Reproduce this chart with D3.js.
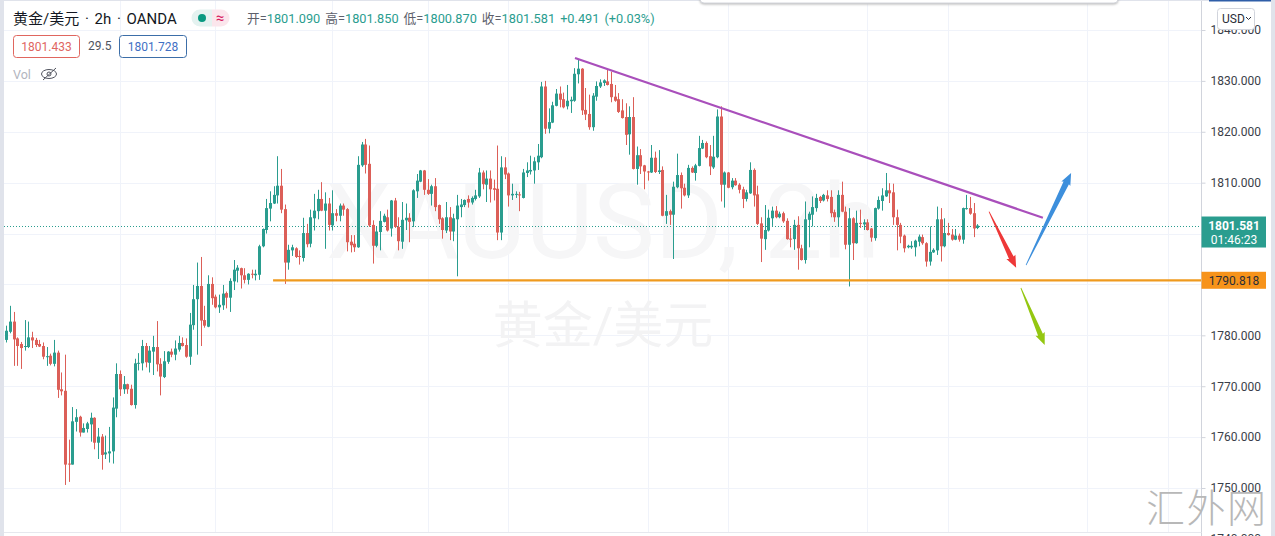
<!DOCTYPE HTML>
<html>
  <head>
    <meta charset="utf-8">
    <style>
     * { margin:0;padding:0 }
     html, body { height:100%; overflow:hidden; background-color:#fff; }
     text { font-family: Roboto, "Noto Sans CJK SC", sans-serif; }
     .axis text { font-size:12px; fill:#3a3e49; }
     .axis path, .axis line { stroke:#d1d4dc; }
    </style>
    <script src="https://cdn.jsdelivr.net/npm/d3@7"></script>
  </head>
  <body>
    <script>
var opens = [
1779.1,1780.7,1782.7,1779.4,1778.3,1777.7,1777.7,1779.6,1779.1,1778.3,
1777.9,1775.8,1776.0,1774.4,1776.6,1769.4,1769.1,1754.8,1754.6,1763.0,
1764.0,1760.9,1761.6,1762.5,1763.8,1758.9,1760.1,1756.6,1756.8,1757.2,
1765.6,1772.4,1769.4,1770.4,1769.5,1766.3,1774.5,1774.5,1777.9,1774.6,
1776.8,1777.7,1774.4,1771.8,1774.8,1776.8,1776.2,1777.2,1778.5,1778.1,
1775.8,1782.0,1787.1,1789.7,1783.0,1781.7,1790.1,1787.6,1785.5,1785.9,
1788.3,1787.4,1790.6,1792.7,1793.2,1791.8,1790.9,1792.1,1791.8,1791.9,
1797.5,1800.7,1804.9,1805.9,1807.5,1809.4,1804.8,1794.3,1796.7,1797.1,
1795.6,1795.2,1800.1,1798.0,1803.0,1804.4,1806.8,1804.5,1805.9,1801.6,
1804.0,1803.5,1805.5,1804.8,1798.4,1798.0,1797.3,1813.4,1817.5,1813.7,
1801.7,1797.6,1800.3,1802.3,1803.2,1801.0,1806.5,1801.3,1798.4,1802.6,
1803.1,1802.4,1808.3,1810.2,1812.4,1808.6,1807.8,1809.3,1805.6,1803.0,
1800.6,1803.2,1800.4,1802.8,1805.2,1805.6,1806.8,1806.1,1806.8,1807.3,
1812.0,1809.6,1810.8,1808.9,1808.8,1800.2,1813.0,1811.8,1807.5,1807.6,
1807.7,1807.0,1811.9,1812.2,1812.4,1814.0,1815.0,1828.9,1820.6,1821.8,
1825.1,1827.5,1826.4,1825.0,1826.0,1826.1,1831.3,1832.4,1824.3,1823.5,
1820.9,1826.9,1828.9,1829.6,1829.9,1829.4,1826.9,1826.4,1824.2,1822.9,
1819.5,1822.9,1812.7,1815.4,1813.4,1812.2,1812.0,1814.9,1812.1,1812.5,
1803.5,1804.4,1803.7,1809.1,1811.5,1809.0,1807.5,1812.9,1811.9,1813.3,
1816.7,1817.8,1815.2,1813.0,1815.0,1823.0,1809.6,1812.0,1809.1,1810.4,
1809.6,1808.7,1806.8,1807.9,1812.5,1807.7,1802.0,1798.9,1800.6,1803.0,
1804.5,1803.2,1804.0,1802.5,1799.0,1798.9,1801.7,1797.1,1794.8,1802.7,
1803.7,1805.0,1807.2,1806.5,1807.5,1807.2,1804.2,1803.2,1807.6,1804.3,
1797.8,1803.0,1798.1,1802.1,1801.8,1802.2,1801.0,1799.1,1804.9,1806.4,
1807.3,1808.5,1808.1,1803.2,1801.7,1799.6,1797.3,1797.3,1797.3,1798.4,
1799.3,1798.1,1794.5,1796.3,1796.7,1802.8,1797.5,1800.1,1799.8,1798.8,
1799.6,1798.8,1804.8,1805.0,1804.0,1801.09];

var highs = [
1781.9,1785.8,1784.6,1779.6,1778.7,1783.0,1782.7,1780.7,1779.5,1779.1,
1778.6,1777.7,1776.4,1779.1,1777.0,1772.7,1776.2,1759.5,1765.9,1765.5,
1764.2,1762.7,1763.0,1764.8,1763.9,1761.8,1760.6,1760.3,1762.0,1767.8,
1774.5,1773.1,1772.0,1770.5,1770.3,1775.4,1776.5,1779.1,1778.5,1777.9,
1779.9,1782.8,1775.5,1776.9,1776.9,1777.4,1779.0,1779.9,1779.6,1779.4,
1784.4,1789.9,1794.3,1795.4,1785.8,1791.8,1791.4,1788.0,1788.0,1789.9,
1788.6,1791.2,1794.8,1793.8,1793.3,1793.2,1792.2,1792.9,1792.9,1797.8,
1801.0,1806.8,1808.3,1809.3,1815.2,1812.7,1805.7,1797.8,1797.8,1797.3,
1796.7,1803.1,1801.9,1804.7,1807.8,1808.6,1810.1,1808.1,1807.0,1808.5,
1804.8,1805.9,1805.9,1805.0,1799.7,1799.7,1815.2,1818.0,1818.6,1817.3,
1802.6,1801.3,1804.4,1803.9,1804.7,1806.6,1807.0,1803.2,1806.2,1805.9,
1804.0,1808.7,1811.7,1812.5,1812.5,1810.7,1809.6,1810.9,1805.7,1803.2,
1806.2,1805.2,1803.9,1807.6,1806.8,1806.7,1807.5,1807.3,1808.6,1812.9,
1812.4,1812.4,1812.4,1810.6,1817.3,1815.2,1815.0,1812.0,1809.8,1808.3,
1808.2,1812.7,1814.0,1815.3,1815.0,1817.6,1829.8,1830.0,1824.6,1825.9,
1828.4,1828.9,1827.7,1829.2,1826.9,1832.5,1834.3,1832.5,1828.6,1827.3,
1827.6,1829.9,1830.3,1830.3,1832.3,1831.8,1829.2,1827.6,1826.4,1825.6,
1825.0,1826.8,1817.1,1816.6,1813.5,1812.3,1817.4,1816.1,1816.4,1813.2,
1807.6,1804.7,1810.2,1815.7,1812.0,1809.8,1813.5,1813.2,1813.7,1819.2,
1818.4,1818.1,1817.4,1819.2,1824.4,1825.0,1812.2,1812.1,1810.9,1810.9,
1809.9,1809.2,1808.6,1814.0,1812.8,1809.4,1803.2,1805.6,1804.7,1805.3,
1805.4,1804.3,1804.3,1803.0,1801.1,1802.7,1803.4,1797.8,1806.3,1804.3,
1807.3,1807.8,1807.4,1807.8,1808.5,1808.5,1804.7,1808.5,1810.2,1805.3,
1805.0,1803.2,1804.5,1804.7,1802.8,1802.8,1801.1,1805.1,1807.3,1808.9,
1811.9,1809.9,1809.8,1804.7,1802.1,1799.8,1797.8,1798.5,1798.8,1799.8,
1799.8,1798.3,1801.4,1797.1,1805.3,1805.0,1803.0,1802.1,1800.9,1800.9,
1800.0,1805.1,1807.6,1807.2,1806.0,1801.85];

var lows = [
1778.6,1780.4,1774.0,1774.0,1773.4,1777.0,1777.5,1777.5,1777.7,1777.7,
1775.3,1774.0,1774.1,1773.9,1767.7,1768.2,1750.6,1751.2,1754.6,1761.1,
1760.1,1760.9,1760.9,1759.1,1757.6,1755.7,1753.6,1755.7,1755.0,1754.8,
1763.9,1768.1,1768.5,1768.5,1766.2,1765.6,1773.1,1773.1,1773.7,1772.7,
1772.2,1772.9,1768.2,1771.6,1774.4,1775.7,1775.1,1776.8,1777.8,1775.6,
1774.2,1781.1,1776.2,1777.9,1781.5,1781.6,1786.0,1785.3,1784.4,1785.0,
1785.3,1784.6,1788.9,1790.4,1789.2,1790.2,1790.0,1791.2,1790.8,1790.9,
1797.3,1800.0,1802.4,1805.8,1805.9,1804.0,1790.1,1792.9,1795.6,1795.2,
1793.9,1794.5,1797.3,1797.3,1800.6,1802.8,1804.4,1797.0,1800.6,1800.6,
1802.4,1802.4,1803.5,1796.5,1796.3,1796.4,1797.2,1813.1,1811.8,1801.3,
1794.1,1797.3,1796.7,1802.2,1800.4,1799.4,1801.1,1796.7,1797.0,1800.7,
1798.3,1801.3,1807.0,1810.1,1807.6,1807.6,1805.5,1804.4,1801.9,1799.0,
1800.1,1798.7,1798.5,1791.6,1803.2,1805.2,1805.1,1805.7,1806.5,1807.0,
1808.7,1806.2,1806.1,1806.5,1798.7,1798.7,1810.7,1805.3,1806.6,1807.0,
1804.4,1806.9,1811.1,1811.6,1809.8,1812.5,1814.8,1819.6,1819.7,1821.7,
1825.0,1824.8,1824.6,1824.4,1823.7,1825.9,1829.5,1823.3,1822.3,1820.4,
1820.2,1826.1,1828.6,1829.0,1829.1,1825.8,1825.9,1823.7,1822.6,1817.4,
1815.5,1812.6,1809.6,1811.7,1808.7,1810.4,1811.9,1811.9,1811.7,1803.4,
1801.9,1801.7,1795.0,1808.9,1804.9,1807.3,1807.0,1811.9,1810.4,1813.2,
1816.6,1814.8,1811.5,1812.7,1814.8,1806.3,1805.1,1808.9,1808.7,1809.4,
1807.9,1805.0,1806.3,1807.8,1805.3,1801.7,1794.4,1796.8,1800.4,1801.5,
1803.0,1803.0,1802.1,1798.8,1797.3,1796.8,1792.9,1794.7,1794.1,1797.3,
1801.4,1804.3,1806.0,1806.3,1806.3,1803.2,1802.3,1801.4,1804.2,1796.9,
1789.6,1794.8,1798.0,1801.1,1800.7,1800.6,1798.4,1798.6,1804.7,1804.5,
1807.2,1806.0,1801.7,1796.7,1798.1,1796.3,1797.1,1797.0,1795.5,1797.5,
1797.8,1793.5,1793.7,1796.2,1795.8,1794.5,1797.3,1799.6,1798.6,1798.7,
1798.4,1798.0,1804.7,1803.7,1799.3,1800.87];

var closes = [
1780.9,1782.7,1779.2,1777.9,1777.5,1777.9,1779.6,1779.0,1778.1,1777.8,
1775.8,1775.9,1774.4,1776.6,1769.3,1769.0,1754.6,1754.6,1763.1,1763.9,
1760.9,1761.8,1762.7,1763.8,1758.9,1760.1,1756.5,1757.0,1757.2,1765.8,
1772.4,1769.4,1770.4,1769.4,1766.3,1774.5,1774.6,1777.9,1774.7,1777.0,
1777.7,1774.3,1771.9,1774.9,1776.8,1776.2,1777.4,1778.5,1777.9,1775.8,
1782.1,1787.1,1789.7,1782.9,1781.9,1790.1,1787.3,1785.5,1786.0,1788.2,
1787.4,1790.7,1792.9,1793.3,1791.8,1790.9,1792.1,1792.0,1792.1,1797.5,
1800.9,1805.0,1806.0,1807.6,1809.4,1804.7,1794.3,1796.8,1797.3,1795.4,
1795.4,1800.1,1797.9,1803.2,1804.5,1806.8,1804.5,1805.9,1801.7,1804.0,
1803.5,1805.5,1804.7,1798.3,1797.7,1797.3,1813.5,1817.5,1813.5,1801.6,
1797.6,1800.4,1802.5,1803.5,1800.6,1806.5,1801.3,1798.5,1802.7,1803.1,
1802.3,1808.5,1810.4,1812.4,1808.6,1807.8,1809.3,1805.2,1802.8,1800.7,
1803.2,1800.4,1803.0,1805.5,1805.7,1806.6,1806.1,1807.0,1807.5,1812.0,
1809.7,1810.8,1808.7,1808.6,1800.2,1813.0,1811.6,1807.5,1807.8,1807.8,
1807.5,1812.0,1812.4,1812.5,1814.2,1815.3,1828.9,1820.6,1821.9,1825.2,
1827.5,1826.3,1824.8,1826.1,1826.3,1831.4,1832.4,1824.2,1823.4,1820.9,
1827.1,1829.0,1829.7,1830.1,1829.2,1826.8,1826.1,1823.9,1822.7,1819.4,
1822.9,1812.7,1815.4,1813.2,1812.2,1812.1,1814.9,1812.1,1812.4,1803.5,
1804.4,1803.7,1809.2,1811.5,1808.9,1807.5,1812.9,1812.0,1813.4,1816.8,
1817.8,1815.0,1813.2,1815.1,1823.0,1809.6,1812.0,1809.0,1810.4,1809.5,
1808.6,1806.8,1808.1,1812.5,1807.5,1801.9,1799.0,1800.7,1803.1,1804.5,
1803.2,1803.9,1802.4,1798.9,1798.9,1801.7,1797.1,1794.8,1802.8,1803.9,
1805.2,1807.0,1806.4,1807.6,1806.8,1804.0,1803.2,1807.6,1804.3,1797.8,
1803.0,1798.1,1802.1,1802.0,1802.2,1800.7,1799.2,1805.0,1806.6,1807.5,
1808.5,1807.9,1803.2,1801.7,1799.4,1797.1,1797.6,1797.6,1798.6,1799.4,
1798.1,1794.5,1796.4,1796.8,1802.8,1797.5,1800.1,1799.7,1798.8,1799.6,
1798.8,1805.0,1805.0,1803.9,1801.0,1801.581];

var priceTicks = [1740,1750,1760,1770,1780,1790,1800,1810,1820,1830,1840];
// 1790 and 1800 sit under the price tags, so they get a gridline but no label
var labelTicks = [1740,1750,1760,1770,1780,1810,1820,1830,1840];
var timeGrid = [31,57,89,115,137,175,197,235,257,295,317];
var lastPrice = 1801.581, supportPrice = 1790.818;
// [bar, price] pairs for the drawn objects
var trendLine = [[155.2,1834.5],[282.9,1803.1]];
var supportStart = 72.8;
var redArrow = [[268.2,1804.3],[275.6,1793.3]];
var blueArrow = [[278.3,1793.8],[290.6,1811.9]];
var greenArrow = [[276.9,1789.3],[283.4,1778.1]];

var width = 1275, height = 536, axisX = 1201.5, up = "#2a9d8f", down = "#dc5f58";

var x = d3.scaleLinear().domain([0,265]).range([6.33,977.3]);
var y = d3.scaleLinear().domain([1840,1750]).range([30,488]);

var svg = d3.select("body").append("svg")
    .attr("width", width)
    .attr("height", height)
    .style("display", "block");

// grid
svg.selectAll(".hg").data(priceTicks).enter().append("line")
    .attr("x1", 4).attr("x2", axisX)
    .attr("y1", function(d) { return Math.round(y(d)) + 0.5; })
    .attr("y2", function(d) { return Math.round(y(d)) + 0.5; })
    .attr("stroke", "#f0f3fa");
svg.selectAll(".vg").data(timeGrid).enter().append("line")
    .attr("x1", function(d) { return Math.round(x(d)) + 0.5; })
    .attr("x2", function(d) { return Math.round(x(d)) + 0.5; })
    .attr("y1", 0).attr("y2", 532)
    .attr("stroke", "#f0f3fa");

// watermark
svg.append("text").attr("x", 603).attr("y", 258)
    .attr("text-anchor", "middle").attr("font-size", 104)
    .attr("fill", "#f6f6f7").text("XAUUSD, 2h");
svg.append("text").attr("x", 603).attr("y", 343)
    .attr("text-anchor", "middle").attr("font-size", 50)
    .attr("fill", "#f3f3f4").text("黄金/美元");

// last price line
svg.append("line")
    .attr("x1", 4).attr("x2", axisX)
    .attr("y1", Math.round(y(lastPrice)) + 0.5).attr("y2", Math.round(y(lastPrice)) + 0.5)
    .attr("stroke", up).attr("stroke-dasharray", "1,2");

// candles
var bars = d3.range(opens.length);
function col(i) { return closes[i] >= opens[i] ? up : down; }
var g = svg.selectAll(".bar").data(bars).enter().append("g");
g.append("line")
    .attr("x1", function(i) { return Math.round(x(i)) + 0.5; })
    .attr("x2", function(i) { return Math.round(x(i)) + 0.5; })
    .attr("y1", function(i) { return y(highs[i]); })
    .attr("y2", function(i) { return y(lows[i]); })
    .attr("stroke", col);
g.append("rect")
    .attr("x", function(i) { return Math.round(x(i)) - 1; })
    .attr("width", 3)
    .attr("y", function(i) { return y(Math.max(opens[i], closes[i])); })
    .attr("height", function(i) { return Math.max(1, Math.abs(y(opens[i]) - y(closes[i]))); })
    .attr("fill", col);

// drawings
svg.append("line")
    .attr("x1", x(trendLine[0][0])).attr("y1", y(trendLine[0][1]))
    .attr("x2", x(trendLine[1][0])).attr("y2", y(trendLine[1][1]))
    .attr("stroke", "#a94fbb").attr("stroke-width", 2.2);
svg.append("line")
    .attr("x1", x(supportStart)).attr("x2", axisX)
    .attr("y1", y(supportPrice)).attr("y2", y(supportPrice))
    .attr("stroke", "#ef9a1e").attr("stroke-width", 2.2);

function arrow(a, color, shaft) {
  var x0 = x(a[0][0]), y0 = y(a[0][1]), x1 = x(a[1][0]), y1 = y(a[1][1]);
  var len = Math.sqrt((x1 - x0) * (x1 - x0) + (y1 - y0) * (y1 - y0));
  var ux = (x1 - x0) / len, uy = (y1 - y0) / len, nx = -uy, ny = ux;
  var bx = x1 - ux * 11, by = y1 - uy * 11;
  var pts = [
    [x0 + nx * 0.4, y0 + ny * 0.4],
    [bx + nx * shaft, by + ny * shaft],
    [bx + nx * 5 - ux, by + ny * 5 - uy],
    [x1, y1],
    [bx - nx * 5 - ux, by - ny * 5 - uy],
    [bx - nx * shaft, by - ny * shaft],
    [x0 - nx * 0.4, y0 - ny * 0.4]
  ];
  svg.append("path").attr("d", "M" + pts.join("L") + "Z").attr("fill", color);
}
arrow(redArrow, "#ee3838", 2.6);
arrow(blueArrow, "#3d8fdc", 3);
arrow(greenArrow, "#94c711", 2.6);

// price axis
svg.append("rect").attr("x", axisX).attr("y", 0).attr("width", 70).attr("height", height).attr("fill", "#fff");
svg.append("g").attr("class", "axis")
    .attr("transform", "translate(" + axisX + ",0)")
    .call(d3.axisRight(y).tickValues(labelTicks).tickFormat(d3.format(".3f")).tickSize(4).tickPadding(5))
    .select(".domain").attr("d", "M0,0V" + height);

// price tags
svg.append("rect").attr("x", axisX).attr("y", y(lastPrice) - 9).attr("width", 64.5).attr("height", 31).attr("fill", up);
svg.append("text").attr("x", 1234).attr("y", y(lastPrice) + 4).attr("text-anchor", "middle")
    .attr("font-size", 12).attr("font-weight", 700).attr("fill", "#fff").text(d3.format(".3f")(lastPrice));
svg.append("text").attr("x", 1234).attr("y", y(lastPrice) + 18).attr("text-anchor", "middle")
    .attr("font-size", 12).attr("fill", "#fff").text("01:46:23");
svg.append("rect").attr("x", axisX).attr("y", y(supportPrice) - 8.5).attr("width", 64.5).attr("height", 17).attr("fill", "#f7931a");
svg.append("text").attr("x", 1234).attr("y", y(supportPrice) + 4.5).attr("text-anchor", "middle")
    .attr("font-size", 12).attr("fill", "#2a2e39").text(d3.format(".3f")(supportPrice));

// frame
svg.append("rect").attr("x", 0).attr("y", 0).attr("width", 4).attr("height", height).attr("fill", "#e0e3eb");
svg.append("rect").attr("x", 1271).attr("y", 0).attr("width", 4).attr("height", height).attr("fill", "#e0e3eb");
svg.append("rect").attr("x", 0).attr("y", 0).attr("width", 1209).attr("height", 1).attr("fill", "#e0e3eb");
svg.append("rect").attr("x", 1209).attr("y", 0).attr("width", 62).attr("height", 1.5).attr("fill", "#2f5ea8");
svg.append("line").attr("x1", 4).attr("x2", axisX).attr("y1", 532.5).attr("y2", 532.5).attr("stroke", "#e6e8ee");

// popup edge at the top
svg.append("rect").attr("x", 700).attr("y", -10).attr("width", 418).attr("height", 13).attr("rx", 4)
    .attr("fill", "#fff").attr("stroke", "#d4d6dc").style("filter", "drop-shadow(0 1px 1px #bbb)");

// USD button
svg.append("rect").attr("x", 1217.5).attr("y", 8.5).attr("width", 37).attr("height", 21).attr("rx", 3)
    .attr("fill", "#fff").attr("stroke", "#d1d4dc");
svg.append("text").attr("x", 1222).attr("y", 22.5).attr("font-size", 12).attr("fill", "#2a2e39").text("USD");
svg.append("path").attr("d", "M1246,17l2.5,2.5l2.5,-2.5").attr("fill", "none").attr("stroke", "#2a2e39");

// legend
svg.append("text").attr("x", 13).attr("y", 24).attr("font-size", 15).attr("word-spacing", 2)
    .attr("fill", "#131722").text("黄金/美元 · 2h · OANDA");
svg.append("path").attr("d", "M200,9.5h12v17h-12a8.5,8.5 0 0 1 0,-17z").attr("fill", "#e4f2f0");
svg.append("path").attr("d", "M212,9.5h9a8.5,8.5 0 0 1 0,17h-9z").attr("fill", "#fbe6ec");
svg.append("circle").attr("cx", 202).attr("cy", 18).attr("r", 4).attr("fill", "#089981");
svg.append("text").attr("x", 220).attr("y", 23).attr("text-anchor", "middle").attr("font-size", 15).attr("fill", "#d81b60").text("≈");

var legendLabels = ["开=", "高=", "低=", "收="];
var legendValues = [1801.090, 1801.850, 1800.870, 1801.581];
var legend = svg.append("text").attr("x", 247).attr("y", 23).attr("font-size", 12.75);
legendLabels.forEach(function(l, i) {
  legend.append("tspan").attr("fill", "#5d606b").attr("dx", i ? 5 : 0).text(l);
  legend.append("tspan").attr("fill", up).text(d3.format(".3f")(legendValues[i]));
});
legend.append("tspan").attr("fill", up).attr("dx", 5).text("+0.491");
legend.append("tspan").attr("fill", up).attr("dx", 5).text("(+0.03%)");

svg.append("rect").attr("x", 13.5).attr("y", 35.5).attr("width", 66).attr("height", 22).attr("rx", 3)
    .attr("fill", "#fff").attr("stroke", "#e0665f");
svg.append("text").attr("x", 46.5).attr("y", 51).attr("text-anchor", "middle").attr("font-size", 12).attr("fill", "#e0665f").text("1801.433");
svg.append("text").attr("x", 88).attr("y", 50).attr("font-size", 12).attr("fill", "#50535e").text("29.5");
svg.append("rect").attr("x", 119.5).attr("y", 35.5).attr("width", 67).attr("height", 22).attr("rx", 3)
    .attr("fill", "#fff").attr("stroke", "#3c6ea8");
svg.append("text").attr("x", 153).attr("y", 51).attr("text-anchor", "middle").attr("font-size", 12).attr("fill", "#3f70c4").text("1801.728");

svg.append("text").attr("x", 13).attr("y", 79).attr("font-size", 12.5).attr("fill", "#b2b5be").text("Vol");
svg.append("ellipse").attr("cx", 49).attr("cy", 74).attr("rx", 7.5).attr("ry", 4.5).attr("fill", "none").attr("stroke", "#50535e");
svg.append("circle").attr("cx", 49).attr("cy", 74).attr("r", 2).attr("fill", "none").attr("stroke", "#50535e");
svg.append("line").attr("x1", 43).attr("y1", 80).attr("x2", 56).attr("y2", 68).attr("stroke", "#50535e");

// site mark
svg.append("text").attr("x", 1146).attr("y", 522).attr("font-size", 39).attr("font-weight", 300)
    .attr("letter-spacing", 1.5).attr("fill", "#b8b8b8")
    .style("font-family", '"Noto Sans CJK SC"').text("汇外网");
    </script>
  </body>
</html>
